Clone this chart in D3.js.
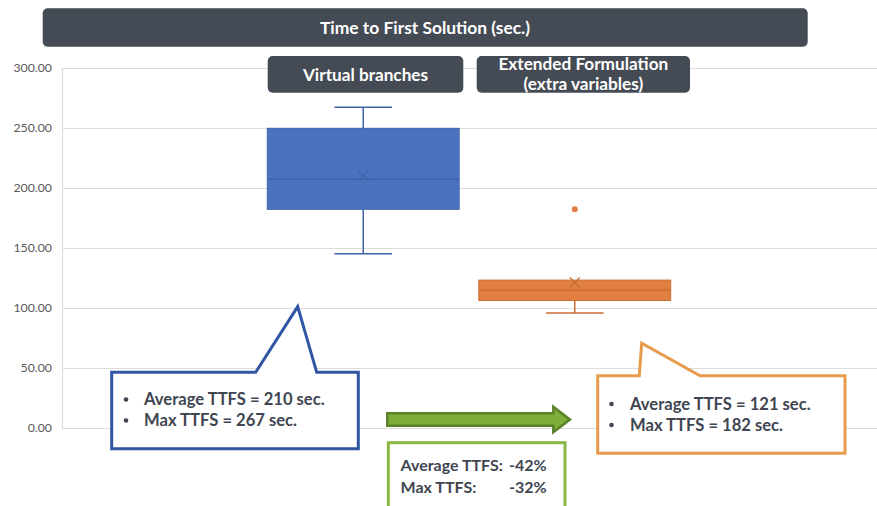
<!DOCTYPE html>
<html><head><meta charset="utf-8">
<script src="https://cdn.jsdelivr.net/npm/d3@7"></script>
<style>
html,body{margin:0;padding:0;background:#fff;}
svg{display:block;font-family:Lato,"Open Sans",sans-serif;}
</style></head>
<body><svg id="c" width="877" height="506"></svg>
<script>
// ---- data ----
const seriesNames = ["Virtual branches", "Extended Formulation"];
const seriesLabels = [["Virtual branches"], ["Extended Formulation", "(extra variables)"]];
const whiskerLow = [145, 95.5];
const q1 = [182, 106];
const medians = [207, 114.5];
const q3 = [249.5, 123];
const whiskerHigh = [267, 123];
const means = [210, 121];
const outliers = [[], [182]];
const seriesColors = ["#4a72be", "#e07f3f"];
const seriesStroke = ["#3f63a8", "#c96e33"];
const yTicks = [0, 50, 100, 150, 200, 250, 300];
const title = "Time to First Solution (sec.)";
const calloutLeft = ["Average TTFS = 210 sec.", "Max TTFS = 267 sec."];
const calloutRight = ["Average TTFS = 121 sec.", "Max TTFS = 182 sec."];
const diffLabels = ["Average TTFS:", "Max TTFS:"];
const diffValues = ["-42%", "-32%"];

const svg = d3.select("#c");
const plotL = 62, plotR = 877, plotT = 67.7, plotB = 427.7;

const y = d3.scaleLinear().domain([0, 300]).range([plotB, plotT]);
const x = d3.scaleBand().domain(seriesNames).range([267.3, 670.7]).paddingInner(0.093).paddingOuter(0);

// gridlines
svg.append("g").selectAll("line").data(yTicks).join("line")
  .attr("x1", plotL).attr("x2", plotR)
  .attr("y1", d => Math.round(y(d)) + 0.5).attr("y2", d => Math.round(y(d)) + 0.5)
  .attr("stroke", "#dcdcdc").attr("stroke-width", 1.2);
svg.append("line").attr("x1", plotL + 0.5).attr("x2", plotL + 0.5)
  .attr("y1", y(300)).attr("y2", y(0)).attr("stroke", "#dcdcdc").attr("stroke-width", 1.2);

// y axis labels
const yAxis = d3.axisLeft(y).tickValues(yTicks).tickFormat(d3.format(".2f")).tickSize(0).tickPadding(10);
const ga = svg.append("g").attr("transform", `translate(${plotL},0)`).call(yAxis);
ga.select(".domain").remove();
ga.selectAll("text").attr("font-family", "Lato, sans-serif").attr("font-size", 12.3).attr("fill", "#595959");

// boxes
const bw = x.bandwidth();
const capW = bw * 0.3;
seriesNames.forEach((s, i) => {
  const cx = x(s) + bw / 2;
  const g = svg.append("g");
  g.append("line").attr("x1", cx).attr("x2", cx).attr("y1", y(whiskerHigh[i])).attr("y2", y(q3[i]))
    .attr("stroke", seriesStroke[i]).attr("stroke-width", 1.5);
  g.append("line").attr("x1", cx).attr("x2", cx).attr("y1", y(q1[i])).attr("y2", y(whiskerLow[i]))
    .attr("stroke", seriesStroke[i]).attr("stroke-width", 1.5);
  if (whiskerHigh[i] > q3[i]) {
    g.append("line").attr("x1", cx - capW / 2).attr("x2", cx + capW / 2)
      .attr("y1", y(whiskerHigh[i])).attr("y2", y(whiskerHigh[i]))
      .attr("stroke", seriesStroke[i]).attr("stroke-width", 1.5);
  }
  g.append("line").attr("x1", cx - capW / 2).attr("x2", cx + capW / 2)
    .attr("y1", y(whiskerLow[i])).attr("y2", y(whiskerLow[i]))
    .attr("stroke", seriesStroke[i]).attr("stroke-width", 1.5);
  g.append("rect").attr("x", x(s)).attr("width", bw)
    .attr("y", y(q3[i])).attr("height", y(q1[i]) - y(q3[i]))
    .attr("fill", seriesColors[i]).attr("stroke", seriesStroke[i]).attr("stroke-width", 1);
  g.append("line").attr("x1", x(s)).attr("x2", x(s) + bw).attr("y1", y(medians[i])).attr("y2", y(medians[i]))
    .attr("stroke", seriesStroke[i]).attr("stroke-width", 1.5);
  const my = y(means[i]), r = 5;
  g.append("path").attr("d", `M${cx - r},${my - r}L${cx + r},${my + r}M${cx - r},${my + r}L${cx + r},${my - r}`)
    .attr("stroke", seriesStroke[i]).attr("stroke-width", 1.2).attr("fill", "none");
  g.selectAll("circle").data(outliers[i]).join("circle")
    .attr("cx", cx).attr("cy", d => y(d)).attr("r", 3).attr("fill", seriesColors[i]);
});

// title banner
const dark = "#454b54";
svg.append("rect").attr("x", 42.7).attr("y", 8.3).attr("width", 765).attr("height", 38.4).attr("rx", 5).attr("fill", dark);
svg.append("text").attr("x", 425).attr("y", 33.5).attr("text-anchor", "middle")
  .attr("font-family", "Lato, sans-serif").attr("font-weight", "bold").attr("font-size", 17.4).attr("fill", "#fff").text(title);

// series label boxes
const labelBoxes = [{x0: 267.7, x1: 463.3}, {x0: 476.7, x1: 690}];
seriesNames.forEach((s, i) => {
  const b = labelBoxes[i];
  svg.append("rect").attr("x", b.x0).attr("y", 56).attr("width", b.x1 - b.x0).attr("height", 36.7).attr("rx", 5).attr("fill", dark);
  const lines = seriesLabels[i];
  const t = svg.append("text").attr("text-anchor", "middle").attr("font-family", "Lato, sans-serif")
    .attr("font-weight", "bold").attr("font-size", 17.2).attr("fill", "#fff");
  lines.forEach((l, j) => {
    t.append("tspan").attr("x", (b.x0 + b.x1) / 2)
      .attr("y", lines.length > 1 ? 70 + j * 20 : 80.5).text(l);
  });
});

// callouts
const textCol = "#404651";
function callout(pts, color, lines, bx, tx, baseY) {
  svg.append("path").attr("d", d3.line()(pts) + "Z").attr("fill", "#fff").attr("stroke", color)
    .attr("stroke-width", 3).attr("stroke-linejoin", "miter");
  lines.forEach((l, j) => {
    svg.append("circle").attr("cx", bx).attr("cy", baseY + j * 21 - 5.5).attr("r", 2.3).attr("fill", textCol);
    svg.append("text").attr("x", tx).attr("y", baseY + j * 21).attr("font-family", "Lato, sans-serif")
      .attr("font-weight", "bold").attr("font-size", 16.6).attr("fill", textCol).text(l);
  });
}
callout([[111.7, 372.3], [255.7, 372.3], [297.7, 306.7], [316.7, 372.3], [358.3, 372.3], [358.3, 448.7], [111.7, 448.7]],
  "#2f55a4", calloutLeft, 126, 144, 405);
callout([[597.7, 375.7], [639.3, 375.7], [641.7, 343.3], [700, 375.7], [845, 375.7], [845, 453.3], [597.7, 453.3]],
  "#e89b4d", calloutRight, 611.5, 630, 409.5);

// green arrow
svg.append("path")
  .attr("d", d3.line()([[387.3, 413.3], [553.3, 413.3], [553.3, 406.7], [570, 419.5], [553.3, 432.3], [553.3, 425.7], [387.3, 425.7]]) + "Z")
  .attr("fill", "#7fae3a").attr("stroke", "#5b8129").attr("stroke-width", 2.5);

// green box
svg.append("rect").attr("x", 388.3).attr("y", 442.7).attr("width", 176.7).attr("height", 70)
  .attr("fill", "#fff").attr("stroke", "#8bb744").attr("stroke-width", 3);
diffLabels.forEach((l, j) => {
  svg.append("text").attr("x", 400.5).attr("y", 470.7 + j * 22).attr("font-family", "Lato, sans-serif")
    .attr("font-weight", "bold").attr("font-size", 16).attr("fill", textCol).text(l);
  svg.append("text").attr("x", 546.7).attr("y", 470.7 + j * 22).attr("text-anchor", "end").attr("font-family", "Lato, sans-serif")
    .attr("font-weight", "bold").attr("font-size", 16).attr("fill", textCol).text(diffValues[j]);
});
</script></body></html>
